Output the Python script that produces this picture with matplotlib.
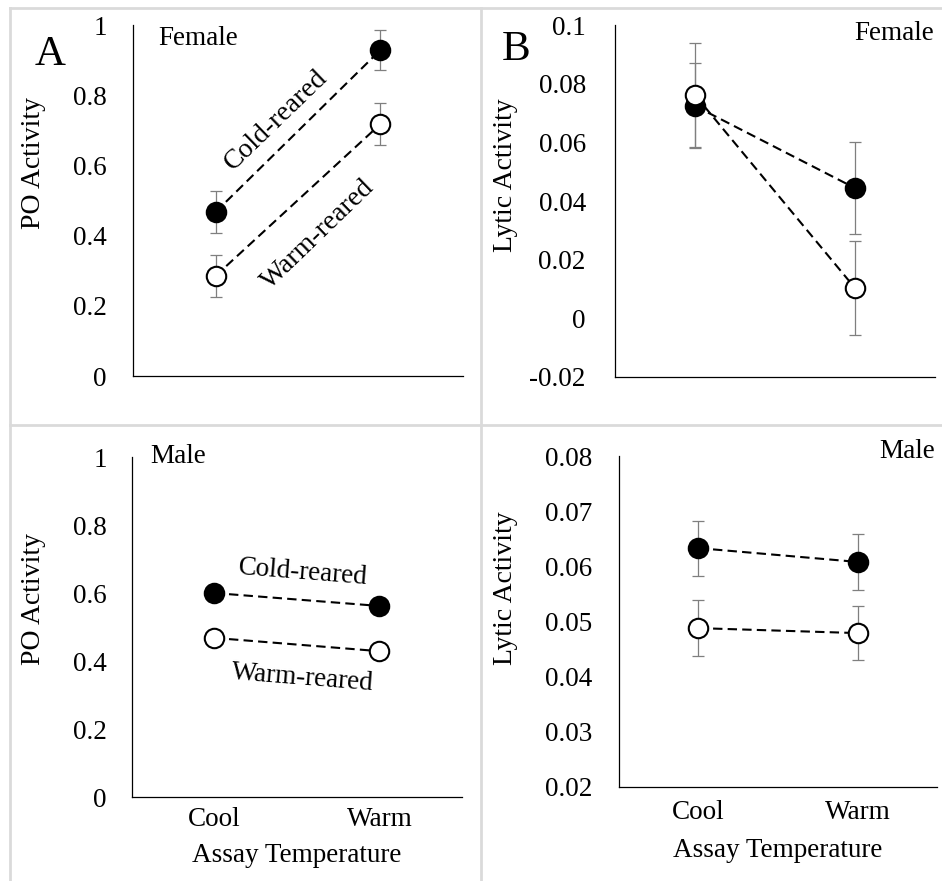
import matplotlib.pyplot as plt
from matplotlib.lines import Line2D

plt.rcParams['font.family'] = ['Liberation Serif', 'DejaVu Serif']
plt.rcParams['font.size'] = 19.5

# dane
assay = ['Cool', 'Warm']
x_pos = [1, 2]

# A - samice, PO
po_f_cold = [0.467, 0.929]
po_f_cold_err = [0.060, 0.058]
po_f_warm = [0.285, 0.718]
po_f_warm_err = [0.060, 0.060]
# A - samce, PO (bez widocznych słupków błędu)
po_m_cold = [0.600, 0.562]
po_m_warm = [0.468, 0.429]
# B - samice, lityczna
ly_f_cold = [0.0724, 0.0444]
ly_f_cold_err = [0.0145, 0.0157]
ly_f_warm = [0.0761, 0.0103]
ly_f_warm_err = [0.0178, 0.0160]
# B - samce, lityczna
ly_m_cold = [0.0633, 0.0608]
ly_m_cold_err = [0.0050, 0.0050]
ly_m_warm = [0.0488, 0.0479]
ly_m_warm_err = [0.0051, 0.0049]

po_ticks = [0, 0.2, 0.4, 0.6, 0.8, 1]
ly_f_ticks = [-0.02, 0, 0.02, 0.04, 0.06, 0.08, 0.1]
ly_m_ticks = [0.02, 0.03, 0.04, 0.05, 0.06, 0.07, 0.08]

fig = plt.figure(figsize=(9.42, 8.81), dpi=100)

# szare ramki jak w tabeli
grid_c = '#dadada'
for xs, ys in [([0.0106, 1], [0.9909, 0.9909]), ([0.0106, 0.0106], [0, 0.9909]),
               ([0.5106, 0.5106], [0, 0.9909]), ([0.0106, 1], [0.5176, 0.5176])]:
    fig.add_artist(Line2D(xs, ys, color=grid_c, lw=2.0, transform=fig.transFigure))


def series(ax, y, err, fill):
    if err is not None:
        ax.errorbar(x_pos, y, yerr=err, fmt='none', ecolor='#7f7f7f', elinewidth=0.9,
                    capsize=4, capthick=0.9, zorder=2)
    ax.plot(x_pos, y, ls=(0, (4.5, 2.5)), color='black', lw=1.5, marker='o', ms=14,
            mfc=fill, mec='black', mew=1.5, zorder=3)


def setup(ax, ticks, ylabel, lab_xy, ypad, xpads=None):
    ax.set_xlim(0.5, 2.5)
    ax.set_ylim(ticks[0], ticks[-1])
    ax.set_yticks(ticks)
    ax.set_yticklabels([f'{t:g}' for t in ticks])
    for s in ['top', 'right']:
        ax.spines[s].set_visible(False)
    for s in ['left', 'bottom']:
        ax.spines[s].set_linewidth(0.9)
    ax.tick_params(axis='y', length=0, pad=ypad)
    if xpads:
        ax.set_xticks(x_pos)
        ax.set_xticklabels(assay)
        ax.tick_params(axis='x', length=0, pad=xpads[0])
        ax.set_xlabel('Assay Temperature', labelpad=xpads[1])
    else:
        ax.set_xticks([])
    ax.set_ylabel(ylabel, va='center', fontsize=20)
    ax.yaxis.set_label_coords(*lab_xy)


# ------------------------------------------------------------- A, samice
ax1 = fig.add_axes([0.1412, 0.5732, 0.3503, 0.3984])
series(ax1, po_f_cold, po_f_cold_err, 'black')
series(ax1, po_f_warm, po_f_warm_err, 'white')
setup(ax1, po_ticks, 'PO Activity', (-0.303, 0.607), 19)
ax1.text(0.076, 0.963, 'Female', transform=ax1.transAxes, ha='left', va='center')
ax1.text(1.367, 0.729, 'Cold-reared', rotation=44, ha='center', va='center', fontsize=20)
ax1.text(1.621, 0.402, 'Warm-reared', rotation=44, ha='center', va='center', fontsize=20)

# ------------------------------------------------------------- B, samice
ax2 = fig.add_axes([0.6529, 0.5721, 0.3397, 0.3995])
series(ax2, ly_f_cold, ly_f_cold_err, 'black')
series(ax2, ly_f_warm, ly_f_warm_err, 'white')
setup(ax2, ly_f_ticks, 'Lytic Activity', (-0.341, 0.574), 21)
ax2.text(0.997, 0.977, 'Female', transform=ax2.transAxes, ha='right', va='center')

# ------------------------------------------------------------- A, samce
ax3 = fig.add_axes([0.1401, 0.0953, 0.3503, 0.3859])
series(ax3, po_m_cold, None, 'black')
series(ax3, po_m_warm, None, 'white')
setup(ax3, po_ticks, 'PO Activity', (-0.297, 0.582), 18, (7, 8))
ax3.text(0.055, 1.003, 'Male', transform=ax3.transAxes, ha='left', va='center')
ax3.text(1.536, 0.660, 'Cold-reared', rotation=-4.5, ha='center', va='center')
ax3.text(1.536, 0.350, 'Warm-reared', rotation=-4.5, ha='center', va='center')

# ------------------------------------------------------------- B, samce
ax4 = fig.add_axes([0.6571, 0.1067, 0.3376, 0.3757])
series(ax4, ly_m_cold, ly_m_cold_err, 'black')
series(ax4, ly_m_warm, ly_m_warm_err, 'white')
setup(ax4, ly_m_ticks, 'Lytic Activity', (-0.358, 0.601), 19, (9.5, 9.5))
ax4.text(0.994, 1.015, 'Male', transform=ax4.transAxes, ha='right', va='center')

fig.text(0.0531, 0.9376, 'A', fontsize=31, ha='center', va='center')
fig.text(0.5478, 0.9432, 'B', fontsize=31, ha='center', va='center')

plt.savefig('out.png', dpi=100)
